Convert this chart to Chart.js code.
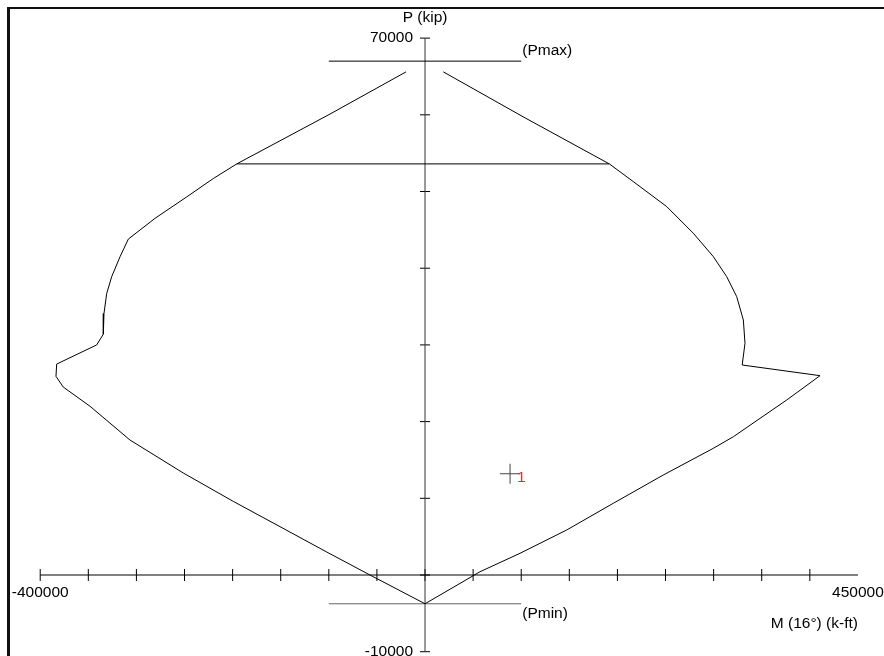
<!DOCTYPE html>
<html>
<head>
<meta charset="utf-8">
<script src="https://cdn.jsdelivr.net/npm/chart.js@4"></script>
<style>
  html, body { margin: 0; padding: 0; background: #fff; }
  canvas { display: block; }
</style>
</head>
<body>
<canvas id="pmChart" width="884" height="656"></canvas>
<script>
// P-M interaction diagram, M (k-ft) on x, P (kip) on y
const curveLeft = [
    [-19750, 65600], [-98750, 60100], [-195700, 53600], [-220000, 51700],
    [-247700, 49300], [-280700, 46500], [-308400, 43800], [-317000, 41500],
    [-325700, 38900], [-330900, 36700], [-333700, 34100], [-334400, 31400],
    [-341300, 30000], [-382900, 27500], [-383600, 25900], [-376000, 24500],
    [-348200, 22000], [-306700, 17600], [-251300, 13300], [-199300, 9600],
    [-150700, 6300], [-102200, 3000], [-57200, 0], [0, -3750]
];
const curveRight = [
    [0, -3750], [57200, 430], [98750, 2830], [147300, 5870], [195700, 9350],
    [247700, 13040], [299700, 16520], [320500, 18030], [376000, 22820],
    [410600, 25990], [329700, 27380], [332600, 30210], [330900, 33250],
    [324000, 36290], [313600, 38900], [299700, 41510], [278900, 44560],
    [251300, 48030], [216500, 51290], [191600, 53600], [104000, 59600],
    [19000, 65600]
];
const pMax = 67000;
const pMin = -3750;
const pCap = 53600;
const capEnds = [-195700, 191600];
const limitEnds = [-100000, 100000];
const loadPoint = { m: 88400, p: 13200, name: '1' };

const xTicks = [-400000, -350000, -300000, -250000, -200000, -150000, -100000, -50000,
    0, 50000, 100000, 150000, 200000, 250000, 300000, 350000, 400000];
const yTicks = [-10000, 0, 10000, 20000, 30000, 40000, 50000, 60000, 70000];
const xAxisEnds = [-400000, 450000];
const yAxisEnds = [-10000, 70000];
const xTickLabels = ['-400000', '450000'];
const yTickLabels = ['70000', '-10000'];

const pts = arr => arr.map(d => ({ x: d[0], y: d[1] }));
const seg = (x1, y1, x2, y2) => [{ x: x1, y: y1 }, { x: x2, y: y2 }];

const lineDs = (data, color) => ({
    data: data, showLine: true, borderColor: color, borderWidth: 1,
    pointRadius: 0, tension: 0, fill: false
});

const FONT = '15.5px "Liberation Sans", Arial, sans-serif';

const textPlugin = {
    id: 'pmText',
    afterDraw(chart) {
        const ctx = chart.ctx;
        const x = chart.scales.x, y = chart.scales.y;
        ctx.save();
        // frame
        ctx.fillStyle = '#111';
        ctx.fillRect(7, 7, 3, 656);
        ctx.fillRect(7, 7, 884, 2);

        ctx.font = FONT;
        ctx.fillStyle = '#000';
        ctx.textBaseline = 'middle';

        ctx.textAlign = 'center';
        ctx.fillText('P (kip)', x.getPixelForValue(0), y.getPixelForValue(yAxisEnds[1]) - 20);
        ctx.fillText(xTickLabels[0], x.getPixelForValue(xAxisEnds[0]), y.getPixelForValue(0) + 18);
        ctx.fillText(xTickLabels[1], x.getPixelForValue(xAxisEnds[1]), y.getPixelForValue(0) + 18);

        ctx.textAlign = 'right';
        ctx.fillText(yTickLabels[0], x.getPixelForValue(0) - 12, y.getPixelForValue(yAxisEnds[1]));
        ctx.fillText(yTickLabels[1], x.getPixelForValue(0) - 12, y.getPixelForValue(yAxisEnds[0]));
        ctx.fillText('M (16°) (k-ft)', x.getPixelForValue(xAxisEnds[1]), y.getPixelForValue(0) + 49);

        ctx.textAlign = 'left';
        ctx.fillText('(Pmax)', x.getPixelForValue(limitEnds[1]) + 1, y.getPixelForValue(pMax) - 10);
        ctx.fillText('(Pmin)', x.getPixelForValue(limitEnds[1]) + 1, y.getPixelForValue(pMin) + 10);

        ctx.fillStyle = '#ff2020';
        ctx.fillText(loadPoint.name, x.getPixelForValue(loadPoint.m) + 7, y.getPixelForValue(loadPoint.p) + 4);
        ctx.restore();
    }
};

new Chart(document.getElementById('pmChart'), {
    type: 'scatter',
    data: {
        datasets: [
            lineDs(pts(curveLeft), '#000'),
            lineDs(pts(curveRight), '#000'),
            lineDs(seg(capEnds[0], pCap, capEnds[1], pCap), '#000'),
            lineDs(seg(limitEnds[0], pMax, limitEnds[1], pMax), '#000'),
            lineDs(seg(limitEnds[0], pMin, limitEnds[1], pMin), '#666'),
            lineDs(seg(xAxisEnds[0], 0, xAxisEnds[1], 0), '#000'),
            lineDs(seg(0, yAxisEnds[0], 0, yAxisEnds[1]), '#333'),
            {
                data: xTicks.map(v => ({ x: v, y: 0 })),
                pointStyle: 'line', rotation: 90, pointRadius: 6,
                borderColor: '#000', borderWidth: 1, showLine: false
            },
            {
                data: yTicks.map(v => ({ x: 0, y: v })),
                pointStyle: 'line', rotation: 0, pointRadius: 5,
                borderColor: '#000', borderWidth: 1, showLine: false
            },
            {
                data: [{ x: loadPoint.m, y: loadPoint.p }],
                pointStyle: 'cross', pointRadius: 10,
                borderColor: '#444', borderWidth: 1, showLine: false
            }
        ]
    },
    options: {
        responsive: false,
        animation: false,
        events: [],
        layout: { padding: 0, autoPadding: false },
        plugins: { legend: { display: false }, tooltip: { enabled: false } },
        scales: {
            x: { type: 'linear', display: false, min: -441800, max: 477100 },
            y: { type: 'linear', display: false, min: -10560, max: 74970 }
        }
    },
    plugins: [textPlugin]
});
</script>
</body>
</html>
